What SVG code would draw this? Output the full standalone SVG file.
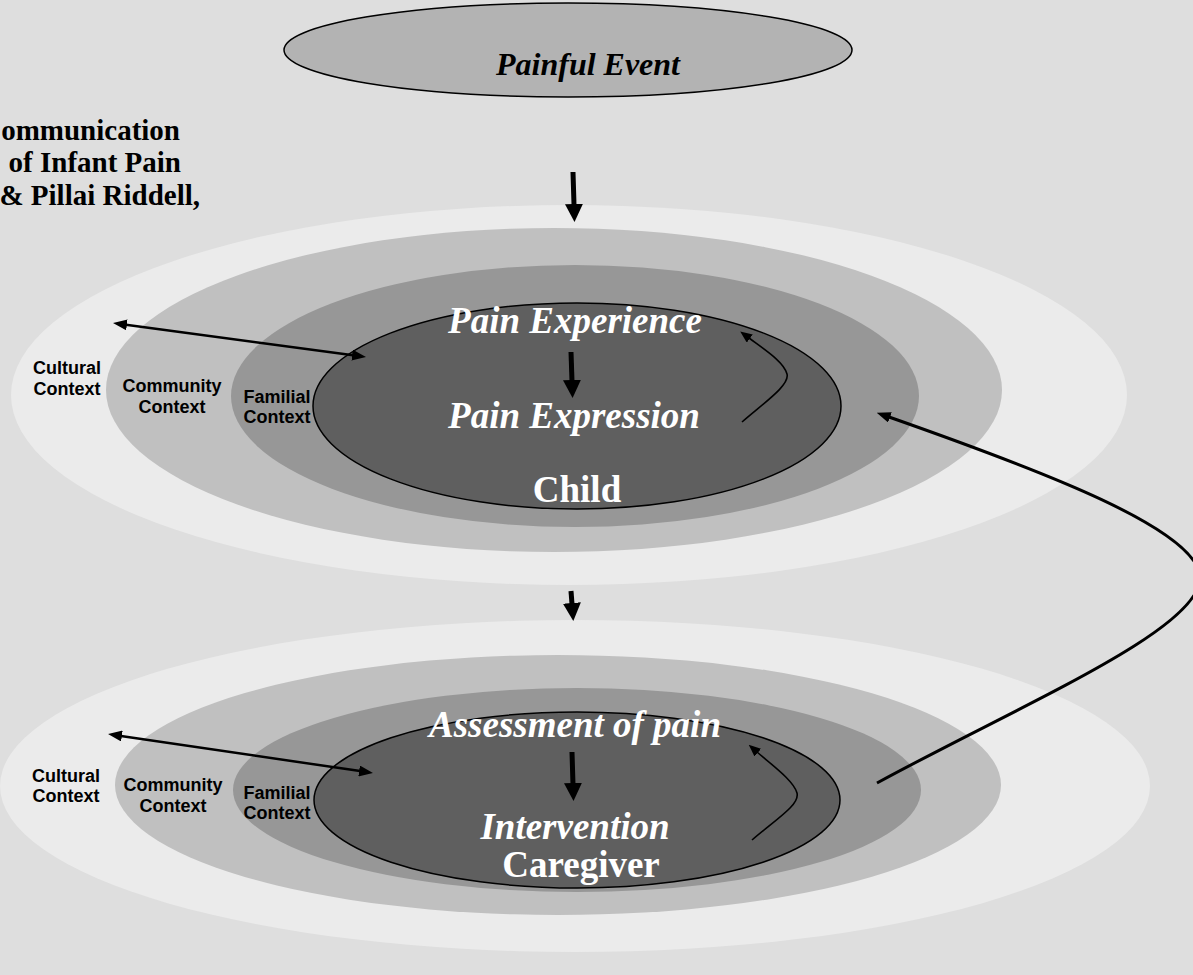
<svg xmlns="http://www.w3.org/2000/svg" width="1193" height="975" viewBox="0 0 1193 975">
<style>
.bg{fill:#dedede}
.l1{fill:#ebebeb}
.l2{fill:#c0c0c0}
.l3{fill:#979797}
.l4{fill:#5f5f5f;stroke:#000;stroke-width:1.5}
.ev{fill:#b3b3b3;stroke:#000;stroke-width:1.5}
.title{font-family:"Liberation Serif","Times New Roman",serif;font-weight:bold;font-size:29px;fill:#000}
.evt{font-family:"Liberation Serif","Times New Roman",serif;font-weight:bold;font-style:italic;font-size:32px;fill:#000}
.wi{font-family:"Liberation Serif","Times New Roman",serif;font-weight:bold;font-style:italic;font-size:37px;fill:#fff}
.wb{font-family:"Liberation Serif","Times New Roman",serif;font-weight:bold;font-size:37px;fill:#fff}
.ctx{font-family:"Liberation Sans",Arial,sans-serif;font-weight:bold;font-size:18px;fill:#000;text-anchor:middle}
.thick{stroke:#000;stroke-width:5;fill:none}
.med{stroke:#000;stroke-width:2.5;fill:none}
.big{stroke:#000;stroke-width:3;fill:none}
.thin{stroke:#000;stroke-width:1.6;fill:none}
</style>
<defs>
<marker id="mBig" markerUnits="userSpaceOnUse" markerWidth="18" markerHeight="18" refX="1" refY="9" orient="auto"><path d="M0,0 L18,9 L0,18 z" fill="#000"/></marker>
<marker id="mMed" markerUnits="userSpaceOnUse" markerWidth="14" markerHeight="11" refX="1" refY="5.5" orient="auto-start-reverse"><path d="M0,0 L14,5.5 L0,11 z" fill="#000"/></marker>
<marker id="mSmall" markerUnits="userSpaceOnUse" markerWidth="12" markerHeight="10" refX="1" refY="5" orient="auto"><path d="M0,0 L12,5 L0,10 z" fill="#000"/></marker>
</defs>
<rect class="bg" x="0" y="0" width="1193" height="975"/>

<g id="title">
<text class="title" x="180" y="140" text-anchor="end">ommunication</text>
<text class="title" x="181" y="172" text-anchor="end">of Infant Pain</text>
<text class="title" x="200" y="205" text-anchor="end">&amp; Pillai Riddell,</text>
</g>

<g id="painful-event">
<ellipse class="ev" cx="568" cy="50" rx="284" ry="47"/>
<text class="evt" x="588" y="75" text-anchor="middle">Painful Event</text>
</g>

<g id="child-cultural"><ellipse class="l1" cx="569" cy="395" rx="558" ry="190"/></g>
<g id="child-community"><ellipse class="l2" cx="554" cy="390" rx="448" ry="162"/></g>
<g id="child-familial"><ellipse class="l3" cx="575" cy="396" rx="344" ry="131"/></g>
<g id="child">
<ellipse class="l4" cx="577" cy="406" rx="264" ry="103"/>
<text class="wi" x="575" y="333" text-anchor="middle">Pain Experience</text>
<text class="wi" x="574" y="428" text-anchor="middle">Pain Expression</text>
<text class="wb" x="577" y="502" text-anchor="middle">Child</text>
</g>
<g id="child-labels">
<text class="ctx" x="67" y="374">Cultural</text>
<text class="ctx" x="67" y="395">Context</text>
<text class="ctx" x="172" y="392">Community</text>
<text class="ctx" x="172" y="413">Context</text>
<text class="ctx" x="277" y="403">Familial</text>
<text class="ctx" x="277" y="423">Context</text>
</g>

<g id="care-cultural"><ellipse class="l1" cx="575" cy="786" rx="575" ry="166"/></g>
<g id="care-community"><ellipse class="l2" cx="558" cy="785" rx="443" ry="130"/></g>
<g id="care-familial"><ellipse class="l3" cx="577" cy="790" rx="344" ry="102"/></g>
<g id="caregiver">
<ellipse class="l4" cx="577" cy="800" rx="263" ry="88"/>
<text class="wi" x="575" y="737" text-anchor="middle">Assessment of pain</text>
<text class="wi" x="575" y="839" text-anchor="middle">Intervention</text>
<text class="wb" x="581" y="877" text-anchor="middle">Caregiver</text>
</g>
<g id="care-labels">
<text class="ctx" x="66" y="782">Cultural</text>
<text class="ctx" x="66" y="802">Context</text>
<text class="ctx" x="173" y="791">Community</text>
<text class="ctx" x="173" y="812">Context</text>
<text class="ctx" x="277" y="799">Familial</text>
<text class="ctx" x="277" y="819">Context</text>
</g>

<g id="connectors">
<line class="thick" x1="573" y1="172" x2="574" y2="205" marker-end="url(#mBig)"/>
<line class="thick" x1="571" y1="352" x2="572" y2="381" marker-end="url(#mBig)"/>
<line class="thick" x1="571" y1="591" x2="572" y2="604" marker-end="url(#mBig)"/>
<line class="thick" x1="572" y1="752" x2="573" y2="784" marker-end="url(#mBig)"/>
<line class="med" x1="125.9" y1="324.7" x2="353.1" y2="355.3" marker-start="url(#mMed)" marker-end="url(#mMed)"/>
<line class="med" x1="120.9" y1="735.9" x2="360.1" y2="771.1" marker-start="url(#mMed)" marker-end="url(#mMed)"/>
<path class="thin" d="M742,422 C765,402 790,385 787,374 C784,362 765,350 749,338" marker-end="url(#mSmall)"/>
<path class="thin" d="M752,840 C775,820 800,805 797,793 C794,781 772,765 757,752" marker-end="url(#mSmall)"/>
<path class="big" d="M877,783 C1020,705 1200,630 1200,578 C1200,530 1040,470 889,417" marker-end="url(#mMed)"/>
</g>
</svg>
